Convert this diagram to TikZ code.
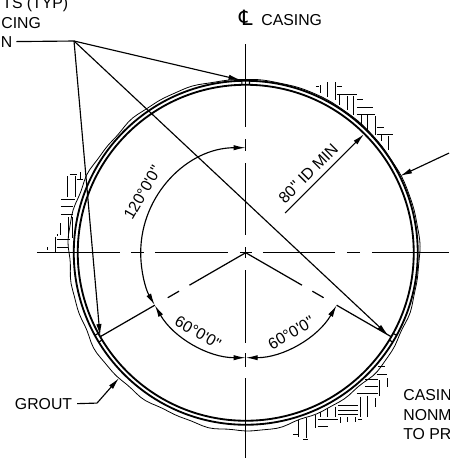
\documentclass[tikz,border=0pt]{standalone}
\usepackage{fontspec}
\usetikzlibrary{arrows.meta}
\newfontfamily\lblfont{Liberation Sans}
\newfontfamily\symfont{DejaVu Sans}
\tikzset{
	lbl/.style={font=\lblfont\fontsize{9}{11}\selectfont, inner sep=0pt},
	leader/.style={black, line width=0.65pt, -{Latex[length=2.4mm,width=1.05mm]}},
	dimarc/.style={black, line width=0.65pt, {Latex[length=2.4mm,width=1.05mm]}-{Latex[length=2.4mm,width=1.05mm]}},
	plain/.style={black, line width=0.65pt},
	cline/.style={black, line width=0.7pt},
	casing/.style={black, line width=1.05pt},
	grout/.style={black, line width=0.45pt},
	hatch/.style={black, line width=0.45pt}
}
\begin{document}
\begin{tikzpicture}[scale=0.02]
	\useasboundingbox (0,0) rectangle (449,-459);
	% labels
	\node [lbl, anchor=base west] (typ) at (2,-8) {TS (TYP)};
	\node [lbl, anchor=base west] (cing) at (1,-28) {CING};
	\node [lbl, anchor=base west, outer xsep=0.8mm] (n) at (-3,-47) {N};
	\node [lbl, anchor=base west] (casing) at (261,-25) {CASING};
	\node [lbl, anchor=base, font=\symfont\fontsize{12}{12}\selectfont] (cl) at (246,-25) {℄};
	\node [lbl, anchor=base west, outer xsep=1mm] (groutlbl) at (10,-409) {GROUT};
	\node [lbl, anchor=base west] (casin) at (403,-400) {CASIN};
	\node [lbl, anchor=base west] (nonm) at (403,-420) {NONM};
	\node [lbl, anchor=base west] (topr) at (403,-439) {TO PR};
	\node [lbl, rotate=60] (angtop) at (142.5,-192.7) {120°0'0"};
	\node [lbl, rotate=-30] (angleft) at (198,-332.7) {60°0'0"};
	\node [lbl, rotate=30] (angright) at (291,-333) {60°0'0"};
	\node [lbl, rotate=45] (idmin) at (308.3,-173.3) {80" ID MIN};
	% connector ends
	\coordinate (ctr) at (245.7,-252.7);
	\coordinate (apex) at (74,-41);
	\coordinate (tiptop) at (240.5,-80);
	\coordinate (tipleft) at (100,-336);
	\coordinate (tipright) at (388,-335);
	\coordinate (idstart) at (285,-213);
	\coordinate (idtip) at (364,-134);
	\coordinate (rightend) at (449,-153);
	\coordinate (righttip) at (400,-176);
	\coordinate (groutknee) at (97,-403);
	\coordinate (grouttip) at (119,-378);
	% casing and grout
	\draw [casing] (ctr) circle (168);
	\draw [casing] (ctr) circle (172);
	\begin{scope}[shift={(245.7,-252.7)}]
		\draw [grout] plot [domain=0:360, samples=181] (\x:{175.5+2.5*cos(\x-230)+(1-0.8*max(0,cos(\x-55)))*(0.9*sin(7*\x)+0.7*sin(17*\x+40)+0.5*sin(31*\x))}) -- cycle;
		% spacers
		\foreach \ang in {90,210,330} {
			\draw [plain] (\ang+1.3:168) -- (\ang+1.3:172);
			\draw [plain] (\ang-1.3:168) -- (\ang-1.3:172);
		}
		% radial lines
		\foreach \ang in {210,330}
			\foreach \ra/\rb in {0/65,77/90,105/168}
				\draw [cline] (\ang:\ra) -- (\ang:\rb);
		% dimension arcs
		\draw [dimarc] (90:105) arc (90:210:105);
		\draw [dimarc] (210:105) arc (210:270:105);
		\draw [dimarc] (270:105) arc (270:330:105);
	\end{scope}
	% centre lines
	\foreach \xa/\xb in {37/120,131/144,155/228,240/252,263/335,347/360,372/449}
		\draw [cline] (\xa,-252.7) -- (\xb,-252.7);
	\foreach \ya/\yb in {44/127,139/151,163/235,247/258,270/343,353/367,378/458}
		\draw [cline] (245.7,-\ya) -- (245.7,-\yb);
	% leaders
	\draw [plain] (n.east) -- (apex);
	\draw [leader] (apex) -- (tiptop);
	\draw [leader] (apex) -- (tipleft);
	\draw [leader] (apex) -- (tipright);
	\draw [leader] (idstart) -- (idtip);
	\draw [leader] (rightend) -- (righttip);
	\draw [plain] (groutlbl.east) -- (groutknee);
	\draw [leader] (groutknee) -- (grouttip);
	% hatching left
	\foreach \xa/\ya/\xb/\yb in {67.3/176/67.3/197,75/176/75/197,80/172/80/180,70/174/77/174,77/179/83/179,
		61/199/75/199,61/206/73/206,61/214/73/214,60/223/60/235,68/217/68/238,72/217/72/238,
		55/237/55/252,47/247/47/250,57/239/70/239,57/247/68/247,57/234/57/236}
		\draw [hatch] (\xa,-\ya) -- (\xb,-\yb);
	% hatching top right
	\foreach \xa/\ya/\xb/\yb in {320/85/320/93,327/82/327/97,335/82/335/100,316/86/319/86,337/86/342/86,
		337/94/357/94,339/94/339/105,347/96/347/110,353/96/353/115,357/99/363/99,357/107/373/107,357/114/375/114,
		361/114/361/125,367/114/367/130,375/116/375/135,377/127/384/127,377/134/393/134,381/135/381/141,388/136/388/150}
		\draw [hatch] (\xa,-\ya) -- (\xb,-\yb);
	% hatching bottom right
	\foreach \xa/\ya/\xb/\yb in {298.3/420/298.3/436.7,306.7/418/306.7/438,315/415/315/428,293.3/434/297.7/434,303.3/439/308.3/439,
		317.7/426.7/328.3/426.7,317.7/419.3/338.3/419.3,320/411.7/320/416.7,327.7/408.3/327.7/417.3,335.7/406.7/335.7/417.3,
		338.3/405/358.3/405,338.3/410/358.3/410,338.3/414/358.3/414,340/417.3/340/423.3,347.7/417.3/347.7/421.7,355/417.3/355/421.7,
		358.3/419.3/361.7/419.3,360/396.7/360/416.7,367.7/395.7/367.7/416.7,375/398.3/375/406.7,356.7/393.3/378.3/393.3,
		365/386.7/378.3/386.7,365/379.3/378.3/379.3,376.7/374.3/386.7/374.3,378.3/366/385/366,379.3/380/379.3/395.7,387.7/378.3/387.7/386.7}
		\draw [hatch] (\xa,-\ya) -- (\xb,-\yb);
\end{tikzpicture}
\end{document}
